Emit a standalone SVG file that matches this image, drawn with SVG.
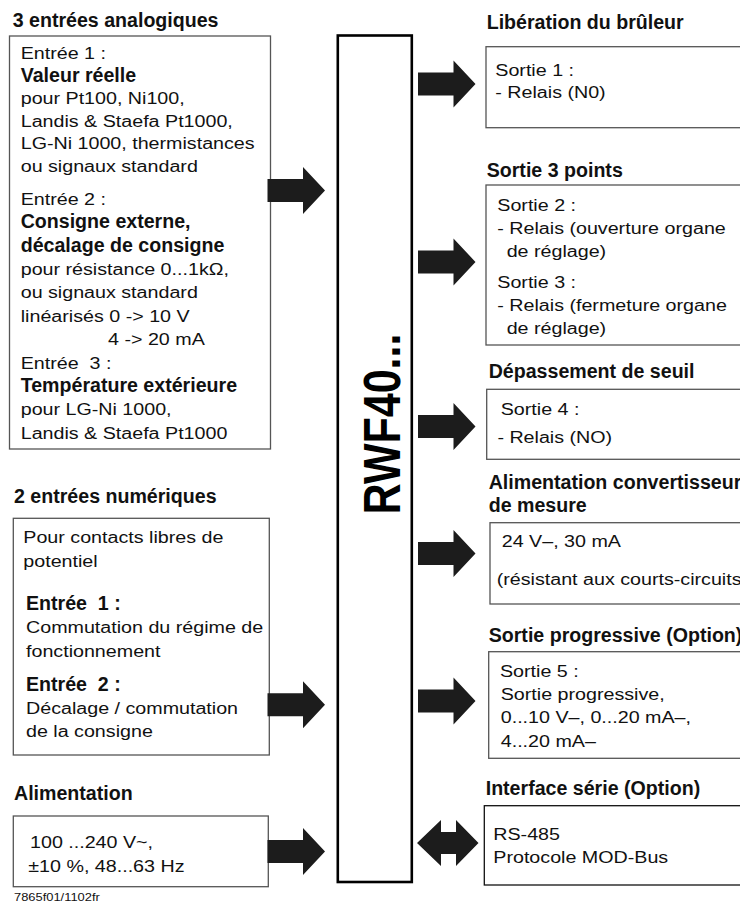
<svg xmlns="http://www.w3.org/2000/svg" width="740" height="907" viewBox="0 0 740 907">
<style>
text{font-family:"Liberation Sans",Arial,Helvetica,sans-serif;fill:#111;white-space:pre}
.h{font-size:19.6px;font-weight:bold}
.r{font-size:16px}
.f{font-size:10.5px}
.box{fill:#fff;stroke:#555;stroke-width:1.3}
.boxd{fill:#fff;stroke:#111;stroke-width:1.3}
.arr{fill:#1c1c1c}
.bar{fill:#fff;stroke:#000;stroke-width:2.6}
.big{font-size:43px;font-weight:bold;fill:#000}
</style>
<defs>
<path id="a" d="M0,-11.5 H35.5 V-23.5 L57.5,0 L35.5,23.5 V11.5 H0 Z"/>
</defs>

<g id="controller">
<rect class="bar" x="337.8" y="35.5" width="74" height="846.5"/>
<text class="big" text-anchor="middle" transform="translate(400,424) scale(1.2,1) rotate(-90)" x="0" y="0">RWF40...</text>
</g>

<g id="in-analog">
<text class="h" x="12.7" y="27">3 entrées analogiques</text>
<rect class="box" x="9.5" y="36" width="261" height="413"/>
<g transform="matrix(1.23 0 0 1 20.7 0)">
<text class="r" x="0" y="59">Entrée 1 :</text>
<text class="r" x="0" y="104.2">pour Pt100, Ni100,</text>
<text class="r" x="0" y="126.8">Landis &amp; Staefa Pt1000,</text>
<text class="r" x="0" y="149.4">LG-Ni 1000, thermistances</text>
<text class="r" x="0" y="172">ou signaux standard</text>
<text class="r" x="0" y="205">Entrée 2 :</text>
<text class="r" x="0" y="275">pour résistance 0...1kΩ,</text>
<text class="r" x="0" y="298.5">ou signaux standard</text>
<text class="r" x="0" y="322">linéarisés 0 -&gt; 10 V</text>
<text class="r" x="71" y="345.5">4 -&gt; 20 mA</text>
<text class="r" x="0" y="369">Entrée  3 :</text>
<text class="r" x="0" y="415.5">pour LG-Ni 1000,</text>
<text class="r" x="0" y="439">Landis &amp; Staefa Pt1000</text>
</g>
<text class="h" x="20.7" y="81.6">Valeur réelle</text>
<text class="h" x="20.7" y="228">Consigne externe,</text>
<text class="h" x="20.7" y="251.5">décalage de consigne</text>
<text class="h" x="20.7" y="392">Température extérieure</text>
</g>

<g id="in-digital">
<text class="h" x="14" y="503">2 entrées numériques</text>
<rect class="box" x="13.3" y="518.3" width="256" height="236.7"/>
<g transform="matrix(1.23 0 0 1 23.3 0)">
<text class="r" x="0" y="543.3">Pour contacts libres de</text>
<text class="r" x="0" y="566.7">potentiel</text>
<text class="r" x="2.2" y="633.3">Commutation du régime de</text>
<text class="r" x="2.2" y="656.7">fonctionnement</text>
<text class="r" x="2.2" y="714">Décalage / commutation</text>
<text class="r" x="2.2" y="737">de la consigne</text>
</g>
<text class="h" x="26" y="610">Entrée  1 :</text>
<text class="h" x="26" y="690.5">Entrée  2 :</text>
</g>

<g id="in-power">
<text class="h" x="14" y="800">Alimentation</text>
<rect class="box" x="13.3" y="816" width="255" height="70.7"/>
<g transform="matrix(1.23 0 0 1 28.3 0)">
<text class="r" x="1.4" y="848.3">100 ...240 V~,</text>
<text class="r" x="0" y="871.7">±10 %, 48...63 Hz</text>
</g>
</g>

<g id="out-burner">
<text class="h" x="486.7" y="29">Libération du brûleur</text>
<rect class="box" x="486" y="46.7" width="260" height="81"/>
<g transform="matrix(1.23 0 0 1 495.3 0)">
<text class="r" x="0" y="76.5">Sortie 1 :</text>
<text class="r" x="0" y="98.5">- Relais (N0)</text>
</g>
</g>

<g id="out-3pt">
<text class="h" x="486.7" y="177">Sortie 3 points</text>
<rect class="box" x="486" y="185" width="260" height="160"/>
<g transform="matrix(1.23 0 0 1 497.3 0)">
<text class="r" x="0" y="211">Sortie 2 :</text>
<text class="r" x="0" y="234">- Relais (ouverture organe</text>
<text class="r" x="7.6" y="257">de réglage)</text>
<text class="r" x="0" y="288">Sortie 3 :</text>
<text class="r" x="0" y="311">- Relais (fermeture organe</text>
<text class="r" x="7.6" y="334">de réglage)</text>
</g>
</g>

<g id="out-limit">
<text class="h" x="488.7" y="378">Dépassement de seuil</text>
<rect class="box" x="486.7" y="389.3" width="260" height="70"/>
<g transform="matrix(1.23 0 0 1 500.7 0)">
<text class="r" x="0" y="415">Sortie 4 :</text>
<text class="r" x="-2.7" y="443">- Relais (NO)</text>
</g>
</g>

<g id="out-transmitter">
<text class="h" x="488.7" y="489">Alimentation convertisseur</text>
<text class="h" x="488.7" y="511.7">de mesure</text>
<rect class="box" x="490" y="522.7" width="260" height="81.3"/>
<g transform="matrix(1.23 0 0 1 496.7 0)">
<text class="r" x="4.1" y="547.3">24 V–, 30 mA</text>
<text class="r" x="0" y="585">(résistant aux courts-circuits)</text>
</g>
</g>

<g id="out-analog">
<text class="h" x="488.7" y="641.7">Sortie progressive (Option)</text>
<rect class="box" x="488.7" y="651.7" width="260" height="106.6"/>
<g transform="matrix(1.23 0 0 1 500 0)">
<text class="r" x="0" y="677">Sortie 5 :</text>
<text class="r" x="0.6" y="700">Sortie progressive,</text>
<text class="r" x="0.6" y="723.5">0...10 V–, 0...20 mA–,</text>
<text class="r" x="0.6" y="747">4...20 mA–</text>
</g>
</g>

<g id="out-serial">
<text class="h" x="485.7" y="795">Interface série (Option)</text>
<rect class="boxd" x="484.3" y="805.7" width="260" height="79.3"/>
<g transform="matrix(1.23 0 0 1 493.3 0)">
<text class="r" x="0" y="840">RS-485</text>
<text class="r" x="0" y="863.3">Protocole MOD-Bus</text>
</g>
</g>

<g id="connectors" class="arr">
<use href="#a" x="267.5" y="190.5"/>
<use href="#a" x="267.5" y="704.7"/>
<use href="#a" x="267.5" y="851.5"/>
<use href="#a" x="418" y="84"/>
<use href="#a" x="418" y="262"/>
<use href="#a" x="418" y="426.5"/>
<use href="#a" x="418" y="553.5"/>
<use href="#a" x="418" y="701"/>
<path d="M417,843 L441,820 V832 H456 V820 L478.5,843 L456,866 V854 H441 V866 Z"/>
</g>

<text class="f" transform="matrix(1.23 0 0 1 14 0)" x="0" y="901">7865f01/1102fr</text>
</svg>
